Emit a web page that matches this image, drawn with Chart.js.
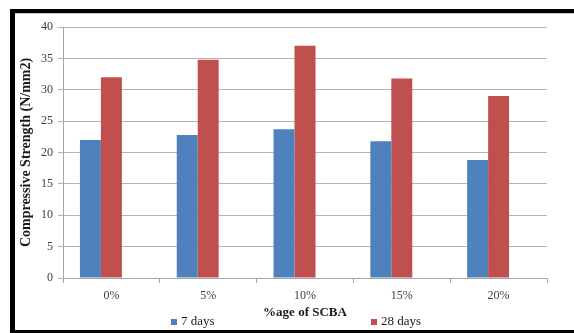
<!DOCTYPE html>
<html>
<head>
<meta charset="utf-8">
<script src="https://cdn.jsdelivr.net/npm/chart.js@4/dist/chart.umd.min.js"></script>
<style>
  html, body { margin: 0; padding: 0; background: #ffffff; }
  #wrap { position: relative; width: 574px; height: 333px; }
  canvas { display: block; }
</style>
</head>
<body>
<div id="wrap"><canvas id="c" width="574" height="333"></canvas></div>
<script>
// Compressive strength of concrete with sugarcane bagasse ash (SCBA) replacement
const categories = ['0%', '5%', '10%', '15%', '20%'];
const days7 = [22, 22.8, 23.7, 21.8, 18.8];
const days28 = [32, 34.8, 37, 31.8, 29];
const seriesNames = ['7 days', '28 days'];
const yTicks = [0, 5, 10, 15, 20, 25, 30, 35, 40];

const SERIF = '"Liberation Serif", "Times New Roman", serif';
const BLUE = '#4F81BD';
const RED = '#C0504D';

// Frame around the figure and the bottom legend (items sit either side of the axis title)
const framePlugin = {
  id: 'frame',
  afterDraw(chart) {
    const ctx = chart.ctx;
    ctx.save();
    ctx.fillStyle = '#000000';
    ctx.fillRect(10, 9, 564, 4);
    ctx.fillRect(10, 9, 5, 324);
    ctx.fillRect(10, 330, 564, 3);
    ctx.fillStyle = '#c8c8c8';
    ctx.fillRect(15, 13, 559, 1);

    const items = [
      { x: 171, text: seriesNames[0], color: BLUE },
      { x: 371, text: seriesNames[1], color: RED }
    ];
    ctx.font = '13px ' + SERIF;
    ctx.textBaseline = 'middle';
    ctx.textAlign = 'left';
    items.forEach(it => {
      ctx.fillStyle = it.color;
      ctx.fillRect(it.x, 319, 6, 6);
      ctx.fillStyle = '#1a1a1a';
      ctx.fillText(it.text, it.x + 10, 322);
    });
    ctx.restore();
  }
};

new Chart(document.getElementById('c'), {
  type: 'bar',
  data: {
    labels: categories,
    datasets: [
      { label: seriesNames[0], data: days7, backgroundColor: BLUE, borderWidth: 0 },
      { label: seriesNames[1], data: days28, backgroundColor: RED, borderWidth: 0 },
      // empty third series keeps the original three-slot grouping
      { label: '', data: [], backgroundColor: 'rgba(0,0,0,0)' }
    ]
  },
  options: {
    responsive: false,
    animation: false,
    layout: { padding: { left: 0, right: 27, top: 27, bottom: 0 } },
    plugins: {
      legend: { display: false },
      tooltip: { enabled: false }
    },
    datasets: {
      bar: { categoryPercentage: 0.65, barPercentage: 1.0 }
    },
    scales: {
      x: {
        grid: {
          drawOnChartArea: false,
          drawTicks: true,
          tickLength: 5,
          color: '#a6a6a6',
          offset: true
        },
        border: { color: '#a6a6a6', width: 1 },
        ticks: {
          font: { family: SERIF, size: 12 },
          color: '#404040',
          padding: 6
        },
        title: {
          display: true,
          text: '%age of SCBA',
          font: { family: SERIF, size: 13, weight: 'bold' },
          color: '#1a1a1a',
          padding: { top: 0, bottom: 13 }
        },
        afterFit(scale) { scale.height = 55; }
      },
      y: {
        min: 0,
        max: 40,
        afterBuildTicks(scale) { scale.ticks = yTicks.map(v => ({ value: v })); },
        grid: {
          color: '#b4b4b4',
          tickLength: 5,
          lineWidth: 1
        },
        border: { color: '#a6a6a6', width: 1 },
        ticks: {
          font: { family: SERIF, size: 12 },
          color: '#404040',
          padding: 5
        },
        title: {
          display: true,
          text: 'Compressive Strength (N/mm2)',
          font: { family: SERIF, size: 14, weight: 'bold' },
          color: '#1a1a1a',
          padding: { top: 18, bottom: 0 }
        },
        afterFit(scale) { scale.width = 63; }
      }
    }
  },
  plugins: [framePlugin]
});
</script>
</body>
</html>
